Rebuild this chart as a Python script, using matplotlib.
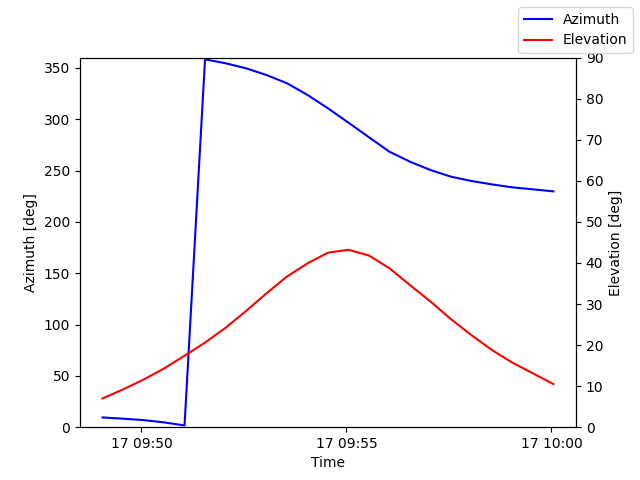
import numpy as np
import pandas as pd
import matplotlib
matplotlib.use('Agg')
import matplotlib.pyplot as plt

# samples every 30 s
times = pd.date_range('2024-01-17 09:49:03', periods=23, freq='30s')

azimuth = [9.5, 8.3, 6.9, 4.7, 1.7, 358.3, 354.5, 349.6, 343.0, 335.0,
           323.6, 310.6, 296.6, 282.4, 268.3, 258.6, 250.5, 244.0, 239.8,
           236.5, 233.6, 231.7, 229.7]
elevation = [7.0, 9.2, 11.6, 14.3, 17.4, 20.6, 24.2, 28.3, 32.6, 36.7,
             39.9, 42.5, 43.2, 41.8, 38.7, 34.6, 30.6, 26.3, 22.4, 18.8,
             15.7, 13.1, 10.5]

fig, ax1 = plt.subplots(figsize=(6.4, 4.8), dpi=100)
ax1.plot(times.to_pydatetime(), azimuth, 'b-', label='Azimuth')
ax1.set_ylim(0, 360)
ax1.set_xlabel('Time')
ax1.set_ylabel('Azimuth [deg]')

ax2 = ax1.twinx()
ax2.plot(times.to_pydatetime(), elevation, 'r-', label='Elevation')
ax2.set_ylim(0, 90)
ax2.set_ylabel('Elevation [deg]')

fig.legend()
fig.savefig('out.png')
